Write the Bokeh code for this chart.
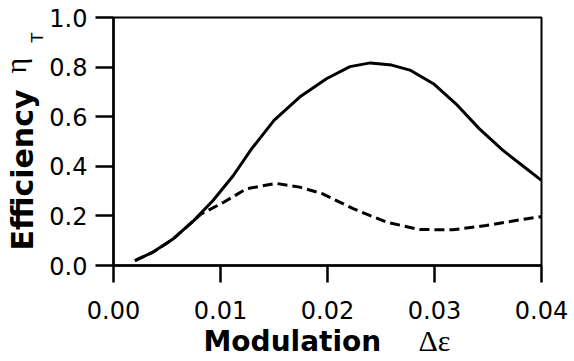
from bokeh.plotting import figure
from bokeh.models import FixedTicker, NumeralTickFormatter, Range1d, Title
from bokeh.embed import file_html
from bokeh.resources import INLINE

# Solid curve
solid_x = [0.0020, 0.0037, 0.0056, 0.0075, 0.0093, 0.0112, 0.0129, 0.0150, 0.0174,
           0.0199, 0.0221, 0.0240, 0.0260, 0.0277, 0.0299, 0.0320, 0.0342, 0.0364,
           0.0386, 0.0400]
solid_y = [0.020, 0.054, 0.108, 0.181, 0.262, 0.363, 0.470, 0.585, 0.679,
           0.753, 0.802, 0.817, 0.808, 0.788, 0.733, 0.652, 0.551, 0.464,
           0.390, 0.343]

# Dashed curve
dash_x = [0.0020, 0.0037, 0.0056, 0.0075, 0.0082, 0.0103, 0.0124, 0.0152, 0.0174,
          0.0195, 0.0224, 0.0255, 0.0286, 0.0317, 0.0348, 0.0380, 0.0400]
dash_y = [0.020, 0.054, 0.108, 0.181, 0.208, 0.255, 0.309, 0.331, 0.316,
          0.290, 0.229, 0.175, 0.145, 0.144, 0.161, 0.184, 0.197]

x_ticks = [0.00, 0.01, 0.02, 0.03, 0.04]
y_ticks = [0.0, 0.2, 0.4, 0.6, 0.8, 1.0]

p = figure(width=570, height=361, output_backend="svg", toolbar_location=None,
           x_range=Range1d(0, 0.04), y_range=Range1d(0, 1.0),
           min_border_left=113, min_border_right=29, min_border_top=17,
           min_border_bottom=96)

p.xgrid.visible = False
p.ygrid.visible = False
p.outline_line_color = "black"
p.outline_line_width = 2
p.background_fill_color = "white"
p.border_fill_color = "white"

for ax in (p.xaxis[0], p.yaxis[0]):
    ax.axis_line_width = 2.5
    ax.axis_line_color = "black"
    ax.major_tick_line_width = 2.5
    ax.major_tick_line_color = "black"
    ax.major_tick_in = 0
    ax.minor_tick_line_color = None
    ax.major_label_text_font = "DejaVu Sans"
    ax.major_label_text_font_size = "24px"
    ax.major_label_text_color = "black"

p.xaxis[0].ticker = FixedTicker(ticks=x_ticks)
p.yaxis[0].ticker = FixedTicker(ticks=y_ticks)
p.xaxis[0].formatter = NumeralTickFormatter(format="0.00")
p.yaxis[0].formatter = NumeralTickFormatter(format="0.0")
p.xaxis[0].major_tick_out = 17
p.yaxis[0].major_tick_out = 18
p.xaxis[0].major_label_standoff = 18
p.yaxis[0].major_label_standoff = 8

p.line(dash_x, dash_y, line_color="black", line_width=3, line_dash="10 5")
p.line(solid_x, solid_y, line_color="black", line_width=3)

# Axis titles (outside the frame)
p.add_layout(Title(text="T", align="left", offset=223, standoff=0,
                   text_font="DejaVu Sans", text_font_size="16px",
                   text_font_style="normal", text_color="black"), "left")
p.add_layout(Title(text="Efficiency", align="left", offset=15, standoff=-29,
                   text_font="DejaVu Sans", text_font_size="30px",
                   text_font_style="bold", text_color="black"), "left")
p.add_layout(Title(text="η", align="left", offset=192, standoff=-28,
                   text_font="Liberation Serif", text_font_size="30px",
                   text_font_style="normal", text_color="black"), "left")

p.add_layout(Title(text="Modulation", align="left", offset=90, standoff=3,
                   text_font="DejaVu Sans", text_font_size="28px",
                   text_font_style="bold", text_color="black"), "below")
p.add_layout(Title(text="Δε", align="left", offset=305, standoff=-72,
                   vertical_align="top",
                   text_font="Liberation Serif", text_font_size="30px",
                   text_font_style="normal", text_color="black"), "below")

open("out.html", "w").write(file_html(p, INLINE))
